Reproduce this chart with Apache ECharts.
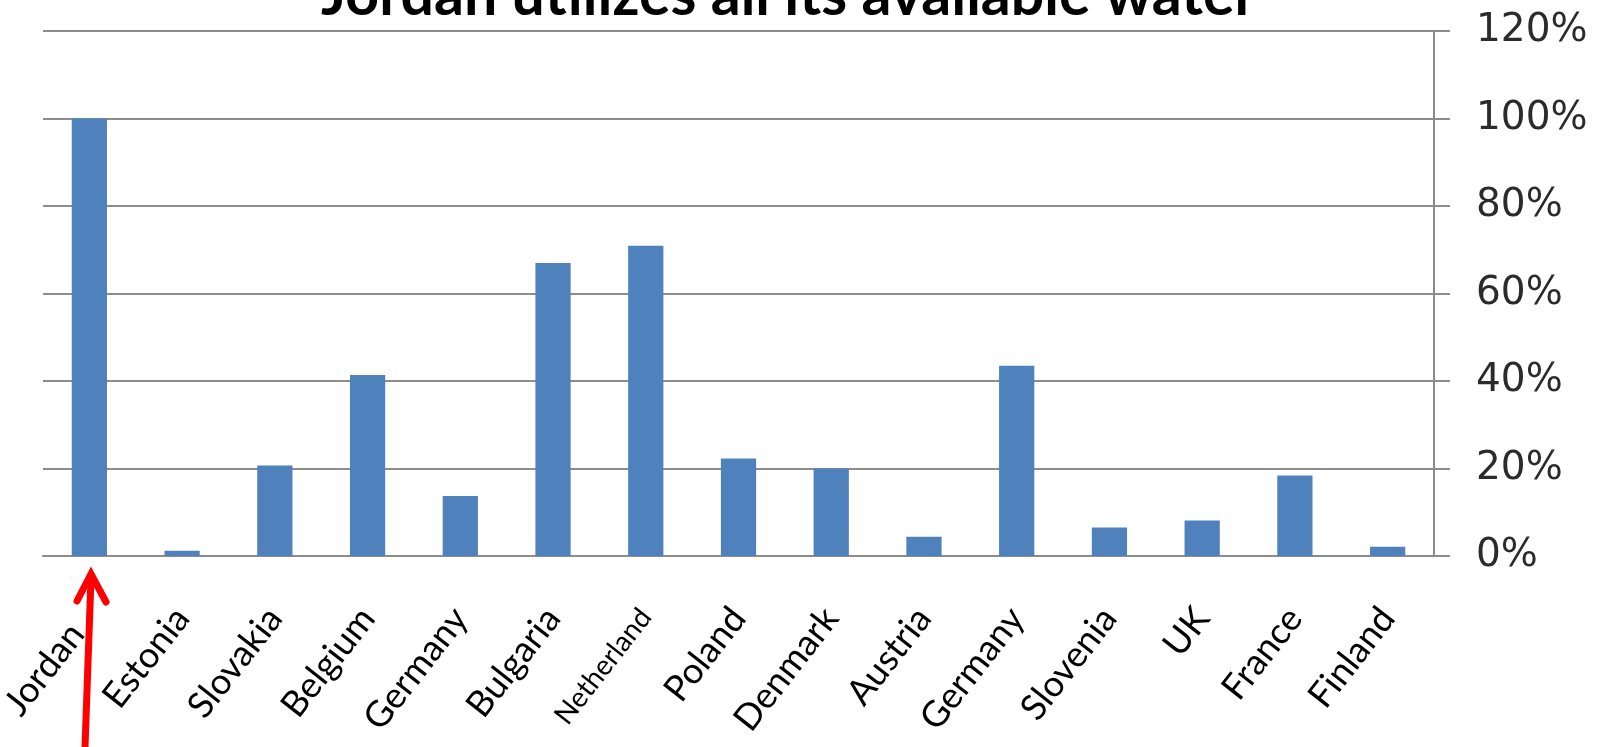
<!DOCTYPE html>
<html>
<head>
<meta charset="utf-8">
<script src="https://cdn.jsdelivr.net/npm/echarts@6/dist/echarts.min.js"></script>
<style>
  html, body { margin: 0; padding: 0; background: #fff; }
  #main { width: 1597px; height: 747px; }
</style>
</head>
<body>
<div id="main"></div>
<script>
// data
var countries = ['Jordan', 'Estonia', 'Slovakia', 'Belgium', 'Germany', 'Bulgaria', 'Netherland',
                 'Poland', 'Denmark', 'Austria', 'Germany', 'Slovenia', 'UK', 'France', 'Finland'];
var usage = [100, 1.2, 20.7, 41.4, 13.7, 67, 70.9, 22.3, 20, 4.4, 43.5, 6.5, 8.1, 18.4, 2.1];
var yTicks = [0, 20, 40, 60, 80, 100, 120];

var myChart = echarts.init(document.getElementById('main'));

// Netherland is written smaller in the original, Jordan sits a bit lower (left of the arrow)
var catData = countries.map(function (c) {
    if (c === 'Netherland') return { value: c, textStyle: { fontSize: 28 } };
    if (c === 'Jordan') return { value: c, textStyle: { padding: [0, 20, 0, 0] } };
    return c;
});

myChart.setOption({
    animation: false,
    title: {
        text: 'Jordan utilizes all its available water',
        left: 316,
        top: -39,
        textStyle: { fontFamily: 'Lato', fontWeight: 'bold', fontSize: 59, color: '#000' }
    },
    grid: { left: 43, right: 163, top: 31, bottom: 191, outerBoundsMode: 'none' },
    xAxis: {
        type: 'category',
        data: catData,
        axisLine: { lineStyle: { color: '#8c8c8c', width: 2 } },
        axisTick: { length: 14, lineStyle: { color: '#8c8c8c', width: 2 } },
        axisLabel: {
            rotate: 52,
            interval: 0,
            margin: 56,
            fontFamily: 'Lato',
            fontSize: 36,
            color: '#000'
        }
    },
    yAxis: {
        type: 'value',
        position: 'right',
        min: yTicks[0],
        max: yTicks[yTicks.length - 1],
        interval: 20,
        axisLine: { show: true, lineStyle: { color: '#8c8c8c', width: 2 } },
        axisTick: { show: true, length: 16, lineStyle: { color: '#8c8c8c', width: 2 } },
        splitLine: { lineStyle: { color: '#8c8c8c', width: 2 } },
        axisLabel: {
            margin: 42,
            fontFamily: 'DejaVu Sans',
            fontSize: 39,
            color: '#2b2b2b',
            formatter: '{value}%'
        }
    },
    series: [{
        type: 'bar',
        data: usage,
        barWidth: '38%',
        itemStyle: { color: '#4F81BD' }
    }],
    graphic: [{
        type: 'polyline',
        shape: { points: [[85, 747], [91, 578]] },
        style: { stroke: '#ff0000', lineWidth: 7, fill: null }
    }, {
        type: 'polyline',
        shape: { points: [[77, 601], [91, 574], [106, 602]] },
        style: { stroke: '#ff0000', lineWidth: 7, fill: null, lineCap: 'round', lineJoin: 'miter' }
    }]
});
</script>
</body>
</html>
